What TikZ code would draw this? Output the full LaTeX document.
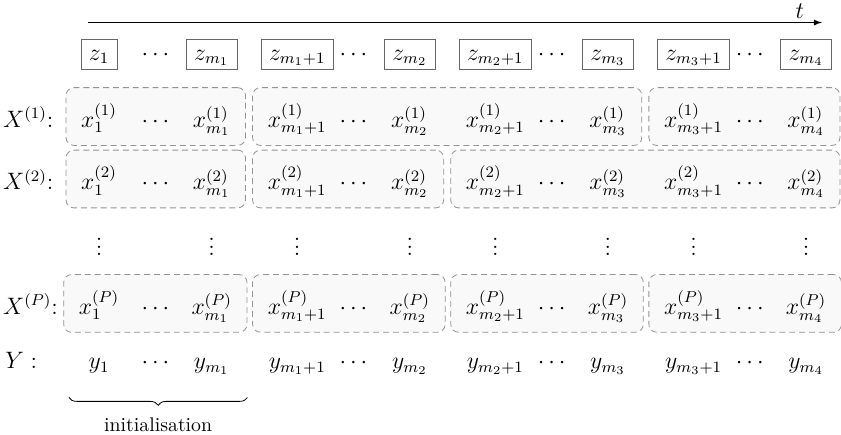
\documentclass[tikz,border=0pt]{standalone}
\usepackage{tikz}
\usetikzlibrary{arrows, positioning, fit, backgrounds, decorations.pathreplacing}
\tikzstyle{zNode} = [rectangle, draw=black!60, text height=7.7pt, text depth=1.6pt, inner xsep=4pt, inner ysep=3pt]
\tikzstyle{zDots} = [zNode, draw=none]
\tikzstyle{xNode} = [text height=14pt, text depth=3pt, inner sep=0pt]
\tikzstyle{yNode} = [text height=5.5pt, text depth=2.5pt, inner sep=0pt]
\tikzstyle{grpBox} = [rectangle, rounded corners=4pt, draw=gray!85, dash pattern=on 3pt off 2pt, fill=gray!5, inner xsep=7.5pt, inner ysep=5.9pt]
\tikzstyle{arrow} = [->, >=latex]
\tikzstyle{brace} = [decorate, decoration={brace, mirror, amplitude=4pt}]
\begin{document}
\begin{tikzpicture}[node distance=1cm, font=\large]
        \useasboundingbox (-1.76,0.96) rectangle (13.18,-6.75);
        % observations
        \node (z1) [zNode] {$z_1$};
        \node (z2) [zDots, right of=z1] {$\cdots$};
        \node (z3) [zNode, right of=z2] {$z_{m_1}$};
        \node (z4) [zNode, right of=z3, xshift=0.52cm] {$z_{m_1+1}$};
        \node (z5) [zDots, right of=z4] {$\cdots$};
        \node (z6) [zNode, right of=z5] {$z_{m_2}$};
        \node (z7) [zNode, right of=z6, xshift=0.52cm] {$z_{m_2+1}$};
        \node (z8) [zDots, right of=z7] {$\cdots$};
        \node (z9) [zNode, right of=z8] {$z_{m_3}$};
        \node (z10) [zNode, right of=z9, xshift=0.52cm] {$z_{m_3+1}$};
        \node (z11) [zDots, right of=z10] {$\cdots$};
        \node (z12) [zNode, right of=z11] {$z_{m_4}$};
        
        \coordinate [above of=z1, xshift=-0.2cm, yshift=-0.44cm] (tStart);
        \coordinate [above of=z12, xshift=0.28cm, yshift=-0.44cm] (tEnd);
        \draw [arrow] (tStart) -- node[above, pos=0.97, inner sep=2pt] {$t$} (tEnd);
        
        % first particle
        \node (a1) [xNode, below of=z1, yshift=-0.11cm] {$x^{(1)}_1$};
        \node (a2) [xNode, below of=z2, yshift=-0.11cm] {$\cdots$};
        \node (a3) [xNode, below of=z3, yshift=-0.11cm] {$x^{(1)}_{m_1}$};
        \node (a4) [xNode, below of=z4, yshift=-0.11cm] {$x^{(1)}_{m_1+1}$};
        \node (a5) [xNode, below of=z5, yshift=-0.11cm] {$\cdots$};
        \node (a6) [xNode, below of=z6, yshift=-0.11cm] {$x^{(1)}_{m_2}$};
        \node (a7) [xNode, below of=z7, yshift=-0.11cm] {$x^{(1)}_{m_2+1}$};
        \node (a8) [xNode, below of=z8, yshift=-0.11cm] {$\cdots$};
        \node (a9) [xNode, below of=z9, yshift=-0.11cm] {$x^{(1)}_{m_3}$};
        \node (a10) [xNode, below of=z10, yshift=-0.11cm] {$x^{(1)}_{m_3+1}$};
        \node (a11) [xNode, below of=z11, yshift=-0.11cm] {$\cdots$};
        \node (a12) [xNode, below of=z12, yshift=-0.11cm] {$x^{(1)}_{m_4}$};
        
        % second particle
        \node (b1) [xNode, below of=a1, yshift=-0.11cm] {$x^{(2)}_1$};
        \node (b2) [xNode, below of=a2, yshift=-0.11cm] {$\cdots$};
        \node (b3) [xNode, below of=a3, yshift=-0.11cm] {$x^{(2)}_{m_1}$};
        \node (b4) [xNode, below of=a4, yshift=-0.11cm] {$x^{(2)}_{m_1+1}$};
        \node (b5) [xNode, below of=a5, yshift=-0.11cm] {$\cdots$};
        \node (b6) [xNode, below of=a6, yshift=-0.11cm] {$x^{(2)}_{m_2}$};
        \node (b7) [xNode, below of=a7, yshift=-0.11cm] {$x^{(2)}_{m_2+1}$};
        \node (b8) [xNode, below of=a8, yshift=-0.11cm] {$\cdots$};
        \node (b9) [xNode, below of=a9, yshift=-0.11cm] {$x^{(2)}_{m_3}$};
        \node (b10) [xNode, below of=a10, yshift=-0.11cm] {$x^{(2)}_{m_3+1}$};
        \node (b11) [xNode, below of=a11, yshift=-0.11cm] {$\cdots$};
        \node (b12) [xNode, below of=a12, yshift=-0.11cm] {$x^{(2)}_{m_4}$};
        
        \node (v1) [below of=b1, yshift=-0.1cm] {$\vdots$};
        \node (v3) [below of=b3, yshift=-0.1cm] {$\vdots$};
        \node (v4) [below of=b4, yshift=-0.1cm] {$\vdots$};
        \node (v6) [below of=b6, yshift=-0.1cm] {$\vdots$};
        \node (v7) [below of=b7, yshift=-0.1cm] {$\vdots$};
        \node (v9) [below of=b9, yshift=-0.1cm] {$\vdots$};
        \node (v10) [below of=b10, yshift=-0.1cm] {$\vdots$};
        \node (v12) [below of=b12, yshift=-0.1cm] {$\vdots$};
        
        % last particle
        \node (p1) [xNode, below of=b1, yshift=-1.21cm] {$x^{(P)}_1$};
        \node (p2) [xNode, below of=b2, yshift=-1.21cm] {$\cdots$};
        \node (p3) [xNode, below of=b3, yshift=-1.21cm] {$x^{(P)}_{m_1}$};
        \node (p4) [xNode, below of=b4, yshift=-1.21cm] {$x^{(P)}_{m_1+1}$};
        \node (p5) [xNode, below of=b5, yshift=-1.21cm] {$\cdots$};
        \node (p6) [xNode, below of=b6, yshift=-1.21cm] {$x^{(P)}_{m_2}$};
        \node (p7) [xNode, below of=b7, yshift=-1.21cm] {$x^{(P)}_{m_2+1}$};
        \node (p8) [xNode, below of=b8, yshift=-1.21cm] {$\cdots$};
        \node (p9) [xNode, below of=b9, yshift=-1.21cm] {$x^{(P)}_{m_3}$};
        \node (p10) [xNode, below of=b10, yshift=-1.21cm] {$x^{(P)}_{m_3+1}$};
        \node (p11) [xNode, below of=b11, yshift=-1.21cm] {$\cdots$};
        \node (p12) [xNode, below of=b12, yshift=-1.21cm] {$x^{(P)}_{m_4}$};
        
        % outputs
        \node (y1) [yNode, below of=p1, yshift=-0.11cm] {$y_1$};
        \node (y2) [yNode, below of=p2, yshift=-0.11cm] {$\cdots$};
        \node (y3) [yNode, below of=p3, yshift=-0.11cm] {$y_{m_1}$};
        \node (y4) [yNode, below of=p4, yshift=-0.11cm] {$y_{m_1+1}$};
        \node (y5) [yNode, below of=p5, yshift=-0.11cm] {$\cdots$};
        \node (y6) [yNode, below of=p6, yshift=-0.11cm] {$y_{m_2}$};
        \node (y7) [yNode, below of=p7, yshift=-0.11cm] {$y_{m_2+1}$};
        \node (y8) [yNode, below of=p8, yshift=-0.11cm] {$\cdots$};
        \node (y9) [yNode, below of=p9, yshift=-0.11cm] {$y_{m_3}$};
        \node (y10) [yNode, below of=p10, yshift=-0.11cm] {$y_{m_3+1}$};
        \node (y11) [yNode, below of=p11, yshift=-0.11cm] {$\cdots$};
        \node (y12) [yNode, below of=p12, yshift=-0.11cm] {$y_{m_4}$};
        
        \node (lA) [xNode, left of=a1, anchor=west, xshift=-0.71cm] {$X^{(1)}$:};
        \node (lB) [xNode, left of=b1, anchor=west, xshift=-0.71cm] {$X^{(2)}$:};
        \node (lP) [xNode, left of=p1, anchor=west, xshift=-0.71cm] {$X^{(P)}$:};
        \node (lY) [yNode, left of=y1, anchor=west, xshift=-0.67cm] {$Y:$};
        
        \begin{scope}[on background layer]
        \node (boxA1) [grpBox, fit=(a1) (a3)] {};
        \node (boxA2) [grpBox, fit=(a4) (a9)] {};
        \node (boxA3) [grpBox, fit=(a10) (a12)] {};
        \node (boxB1) [grpBox, fit=(b1) (b3)] {};
        \node (boxB2) [grpBox, fit=(b4) (b6)] {};
        \node (boxB3) [grpBox, fit=(b7) (b12)] {};
        \node (boxP1) [grpBox, fit=(p1) (p3)] {};
        \node (boxP2) [grpBox, fit=(p4) (p6)] {};
        \node (boxP3) [grpBox, fit=(p7) (p9)] {};
        \node (boxP4) [grpBox, fit=(p10) (p12)] {};
        \end{scope}
        
        \coordinate (brL) at ([xshift=0.1cm, yshift=-1.15cm]boxP1.south west);
        \coordinate (brR) at ([yshift=-1.15cm]boxP1.south east);
        \draw [brace] (brL) -- (brR) node [midway, below=6.5pt, font=\normalsize] {initialisation};
        
        \end{tikzpicture}
\end{document}
